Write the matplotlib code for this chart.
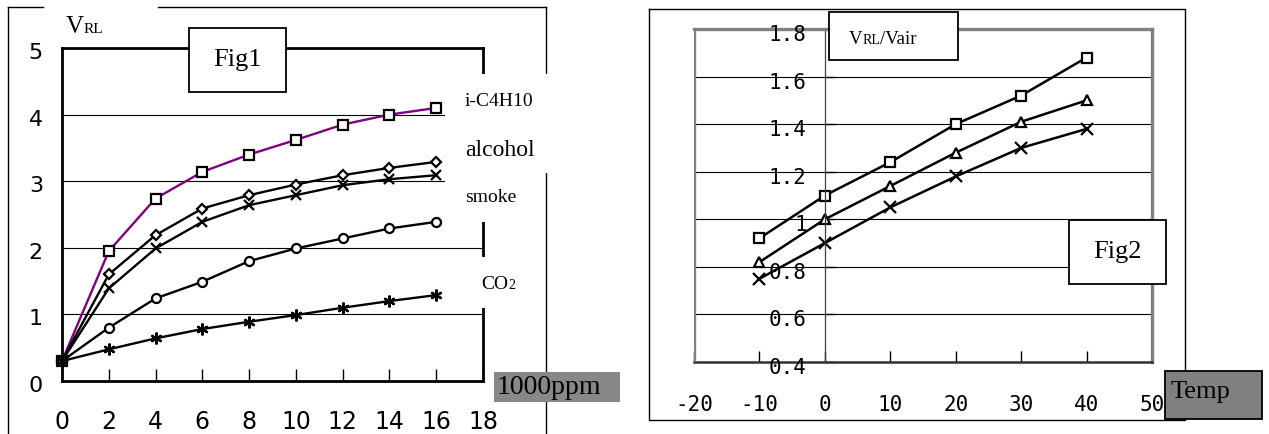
import matplotlib.pyplot as plt
from matplotlib.patches import Rectangle
from matplotlib.lines import Line2D
from matplotlib.transforms import ScaledTranslation

# Fig1: sensitivity vs concentration (x in 1000ppm)
conc = [0, 2, 4, 6, 8, 10, 12, 14, 16]
ic4h10 = [0.3, 1.95, 2.74, 3.14, 3.4, 3.62, 3.85, 4.0, 4.1]
alcohol = [0.3, 1.6, 2.19, 2.59, 2.79, 2.95, 3.09, 3.2, 3.29]
gas_x = [0.3, 1.39, 1.99, 2.39, 2.64, 2.79, 2.94, 3.03, 3.09]
smoke = [0.3, 0.8, 1.24, 1.49, 1.8, 1.99, 2.14, 2.29, 2.39]
co2 = [0.3, 0.475, 0.64, 0.78, 0.89, 0.99, 1.1, 1.2, 1.29]

# Fig2: VRL/Vair vs temperature
temp = [-10, 0, 10, 20, 30, 40]
ratio_sq = [0.92, 1.1, 1.24, 1.4, 1.52, 1.68]
ratio_tri = [0.82, 1.0, 1.14, 1.28, 1.41, 1.5]
ratio_x = [0.75, 0.9, 1.05, 1.18, 1.3, 1.38]

left_xticks = [0, 2, 4, 6, 8, 10, 12, 14, 16, 18]
left_yticks = [0, 1, 2, 3, 4, 5]
right_xticks = [-20, -10, 0, 10, 20, 30, 40, 50]
right_yticks = [0.4, 0.6, 0.8, 1.0, 1.2, 1.4, 1.6, 1.8]
right_ylabels = ['0.4', '0.6', '0.8', '1', '1.2', '1.4', '1.6', '1.8']

W, H = 1269, 434
fig = plt.figure(figsize=(W / 100, H / 100), dpi=100)
SERIF = 'Liberation Serif'
MONO = 'DejaVu Sans Mono'


def box(x0, y0, x1, y1):
    return [x0 / W, 1 - y1 / H, (x1 - x0) / W, (y1 - y0) / H]


def fline(xs, ys, lw=1.0):
    fig.add_artist(Line2D([x / W for x in xs], [1 - y / H for y in ys],
                          transform=fig.transFigure, color='black', lw=lw, zorder=1))


def frect(x0, y0, x1, y1, fc='white', ec='none', lw=1.3, z=3):
    fig.add_artist(Rectangle((x0 / W, 1 - y1 / H), (x1 - x0) / W, (y1 - y0) / H,
                             transform=fig.transFigure, facecolor=fc, edgecolor=ec,
                             lw=lw, zorder=z))


def ftext(x, y, s, size, ha='left', va='center', family=SERIF):
    return fig.text(x / W, 1 - y / H, s, fontsize=size, ha=ha, va=va,
                    family=family, zorder=6)


def chain(first, s, size):
    r = fig.canvas.get_renderer()
    bb = first.get_window_extent(r)
    return fig.text(bb.x1 / W, first.get_position()[1], s, fontsize=size,
                    ha='left', va='baseline', family=SERIF, zorder=6)


# outer frames
fline([8, 43], [7, 7])
fline([158, 546], [7, 7])
fline([8, 8], [7, 434])
fline([546, 546], [7, 434])
fline([649, 1185, 1185, 649, 649], [9, 9, 420, 420, 9])

# ---- Fig1 ----
ax1 = fig.add_axes(box(62, 48, 483, 381))
ax1.set_facecolor('none')
ax1.set_xlim(0, 18)
ax1.set_ylim(0, 5)
ax1.set_axisbelow(True)
ax1.grid(axis='y', color='black', lw=0.8)
for sp in ax1.spines.values():
    sp.set_linewidth(2)
    sp.set_color('black')

mk = dict(mec='black', mfc='white', mew=1.6, clip_on=False)
ax1.plot(conc, ic4h10, color='#800080', lw=1.7, marker='s', ms=6.5, **mk)
ax1.plot(conc, alcohol, color='black', lw=1.7, marker='D', ms=5, **mk)
ax1.plot(conc, gas_x, color='black', lw=1.7, marker='x', ms=7.5, **mk)
ax1.plot(conc, smoke, color='black', lw=1.7, marker='o', ms=6.5, **mk)
ax1.plot(conc, co2, color='black', lw=1.7, marker=(6, 2, 0), ms=8.5, **mk)

ax1.set_xticks(left_xticks)
ax1.set_xticklabels([str(v) for v in left_xticks], fontsize=17)
ax1.tick_params(axis='x', direction='in', length=9, width=1, pad=21)
ax1.set_yticks(left_yticks)
ax1.tick_params(axis='y', length=0, labelleft=False)
off1 = ax1.get_yaxis_transform() + ScaledTranslation(-0.19, -0.05, fig.dpi_scale_trans)
for v in left_yticks:
    ax1.text(0, v, str(v), transform=off1, ha='right', va='center', fontsize=16)

# ---- Fig2 ----
ax2 = fig.add_axes(box(694, 29, 1152, 362))
ax2.set_facecolor('none')
ax2.set_xlim(-20, 50)
ax2.set_ylim(0.4, 1.8)
ax2.set_axisbelow(True)
ax2.grid(axis='y', color='black', lw=0.8)
for side in ['top', 'right']:
    ax2.spines[side].set_color('#808080')
    ax2.spines[side].set_linewidth(2.4)
ax2.axvline(-20, color='#808080', lw=2.4, zorder=3)
ax2.spines['left'].set_position(('data', 0))
ax2.spines['left'].set_color('#404040')
ax2.spines['left'].set_linewidth(0.9)
ax2.spines['bottom'].set_color('#333333')
ax2.spines['bottom'].set_linewidth(1.8)

ax2.plot(temp, ratio_sq, color='black', lw=1.8, marker='s', ms=6.5, **mk)
ax2.plot(temp, ratio_tri, color='black', lw=1.8, marker='^', ms=7.5, **mk)
ax2.plot(temp, ratio_x, color='black', lw=1.8, marker='x', ms=8, **mk)

ax2.set_xticks(right_xticks)
ax2.set_xticklabels([str(v) for v in right_xticks], family=MONO, fontsize=15)
ax2.tick_params(axis='x', direction='in', length=8, width=1, pad=24)
ax2.set_yticks(right_yticks)
ax2.tick_params(axis='y', direction='in', length=7, width=1, labelleft=False)
off2 = ax2.get_yaxis_transform() + ScaledTranslation(-0.18, -0.06, fig.dpi_scale_trans)
for v, s in zip(right_yticks, right_ylabels):
    ax2.text(20 / 70, v, s, transform=off2, ha='right', va='center',
             family=MONO, fontsize=15)

# white covers behind the Fig1 labels
frect(445, 74, 553, 173)
frect(445, 173, 520, 222)
frect(468, 257, 520, 308)

# boxes
frect(189, 28, 286, 92, ec='black', z=5)
ftext(237.5, 60, 'Fig1', 19, ha='center')
frect(1069, 220, 1166, 284, ec='black', z=5)
ftext(1117.5, 252, 'Fig2', 19, ha='center')
frect(829, 12, 958, 60, ec='black', z=5)
v2 = ftext(849, 44, 'V', 13.5, va='baseline')
rl2 = chain(v2, 'RL', 10)
chain(rl2, '/Vair', 13.5)
frect(1165, 371, 1262, 419, fc='#808080', ec='black', z=5)
ftext(1171, 392, 'Temp', 19)
frect(494, 372, 620, 402, fc='#888888', z=5)
ftext(497, 388, '1000ppm', 20)

# Fig1 series labels
ftext(465, 101, 'i-C4H10', 14)
ftext(465, 151, 'alcohol', 17)
ftext(465, 197, 'smoke', 14)
co = ftext(481, 289, 'CO', 14, va='baseline')
chain(co, '2', 10)
v1 = ftext(66, 33, 'V', 18, va='baseline')
chain(v1, 'RL', 11)

fig.savefig('out.png', dpi=100)
